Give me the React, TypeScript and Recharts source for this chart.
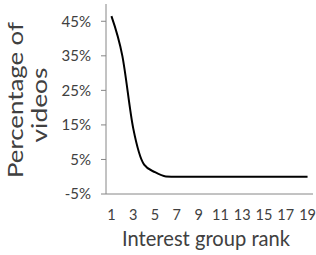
import React from 'react';
import { LineChart, Line, XAxis, YAxis, Label } from 'recharts';

const ranks = [1, 2, 3, 4, 5, 6, 7, 8, 9, 10, 11, 12, 13, 14, 15, 16, 17, 18, 19];
const percentages = [46.5, 35, 14, 3.5, 1.3, 0.1, 0, 0, 0, 0, 0, 0, 0, 0, 0, 0, 0, 0, 0];
const xTicks = [1, 3, 5, 7, 9, 11, 13, 15, 17, 19];
const yTicks = [-5, 5, 15, 25, 35, 45];

const data = ranks.map((rank, i) => ({ rank, pct: percentages[i] }));

const FONT = 'Lato, "Noto Sans", sans-serif';
const TEXT = '#404040';
const AXIS = '#868686';

// two-line rotated title, stretched to the reference's length
const YTitle = () => (
  <g fontFamily={FONT} fontSize={21} fill={TEXT}>
    <text
      transform="rotate(-90, 23, 100)"
      x={23}
      y={100}
      textAnchor="middle"
      textLength={156}
      lengthAdjust="spacingAndGlyphs"
    >
      Percentage of
    </text>
    <text
      transform="rotate(-90, 47, 105)"
      x={47}
      y={105}
      textAnchor="middle"
      textLength={75}
      lengthAdjust="spacingAndGlyphs"
    >
      videos
    </text>
  </g>
);

const XTitle = () => (
  <text
    x={206}
    y={246}
    textAnchor="middle"
    fontFamily={FONT}
    fontSize={22}
    fill={TEXT}
    textLength={168}
    lengthAdjust="spacingAndGlyphs"
  >
    Interest group rank
  </text>
);

const App = () => {
  return (
    <div style={{ position: 'absolute', left: 0, top: 0 }}>
      <LineChart
        width={316}
        height={255}
        data={data}
        margin={{ top: 4, right: 3, bottom: 31, left: 0 }}
      >
        <XAxis
          dataKey="rank"
          type="number"
          domain={[0.5, 19.5]}
          ticks={xTicks}
          interval={0}
          stroke={AXIS}
          tickLine={false}
          tickSize={0}
          tickMargin={16}
          tick={{ fill: TEXT, fontSize: 14.5, fontFamily: FONT }}
          height={30}
        >
          <Label content={() => <XTitle />} />
        </XAxis>
        <YAxis
          width={106}
          domain={[-5, 50]}
          ticks={yTicks}
          interval={0}
          stroke={AXIS}
          tickSize={5}
          tickMargin={10}
          tickFormatter={(v) => `${v}%`}
          tick={{ fill: TEXT, fontSize: 15, fontFamily: FONT }}
        >
          <Label content={() => <YTitle />} />
        </YAxis>
        <Line
          type="monotone"
          dataKey="pct"
          stroke="#000000"
          strokeWidth={2}
          dot={false}
          isAnimationActive={false}
        />
      </LineChart>
    </div>
  );
};

export default App;
